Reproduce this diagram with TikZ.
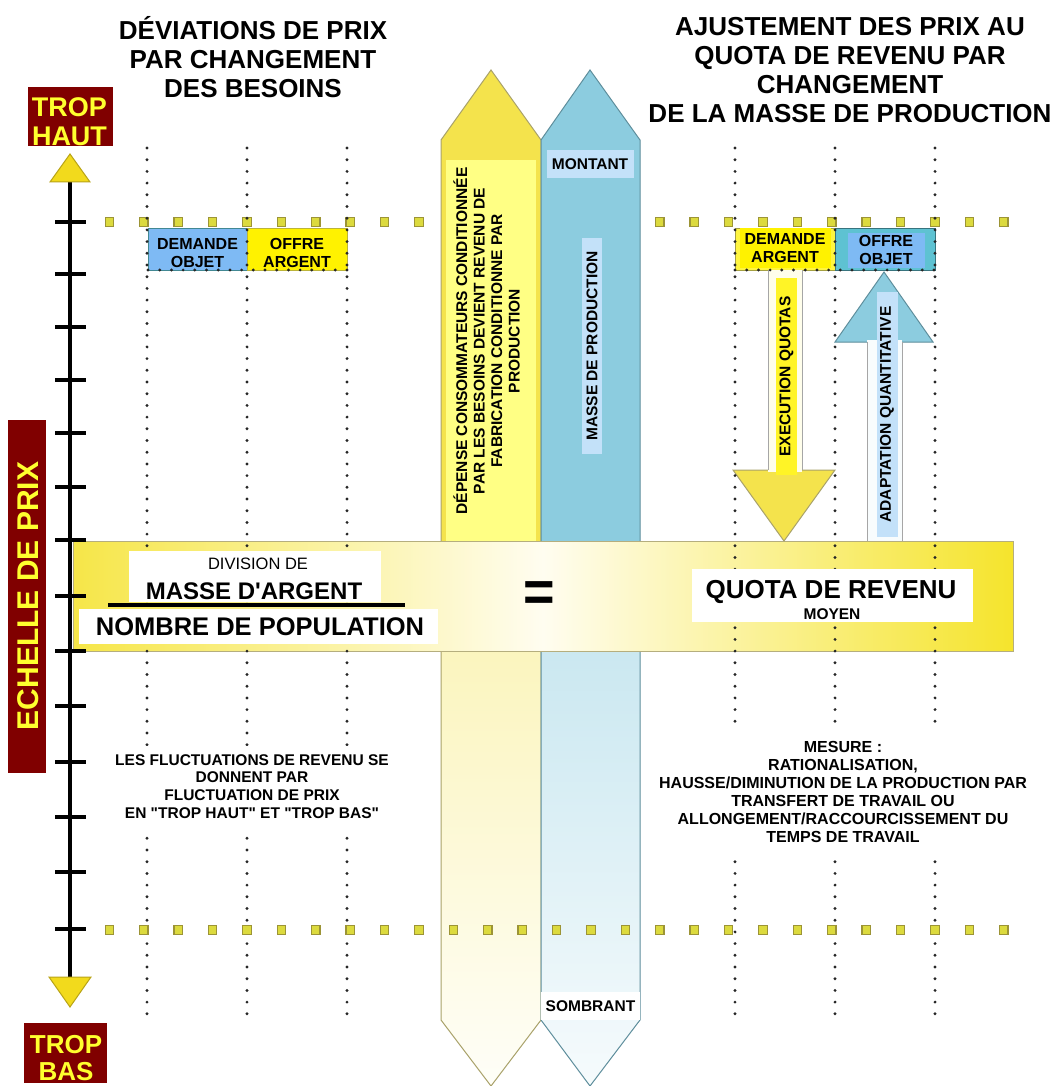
\documentclass[tikz,border=0pt]{standalone}
\usepackage{fontspec}
\newfontfamily\af{Liberation Sans}
\definecolor{dred}{HTML}{800000}
\definecolor{tyel}{HTML}{FFFF2E}
\definecolor{ayel}{HTML}{F4E34C}
\definecolor{ayelp}{HTML}{FFFF84}
\definecolor{ayelb}{HTML}{A9A26A}
\definecolor{ablu}{HTML}{8CCCDF}
\definecolor{ablub}{HTML}{5E8E9C}
\definecolor{lblu}{HTML}{C3E1F9}
\definecolor{boxblu}{HTML}{7EBAF4}
\definecolor{tealb}{HTML}{5EC2D2}
\definecolor{sqf}{HTML}{DCDA3E}
\definecolor{sqb}{HTML}{9C9436}
\definecolor{barb}{HTML}{B5AE7E}
\definecolor{bary}{HTML}{F6E648}
\definecolor{baryr}{HTML}{F5E42C}
\definecolor{barm}{HTML}{FFFDF0}
\definecolor{tri}{HTML}{F2DA1C}
\definecolor{trib}{HTML}{B9A417}
\begin{document}
\begin{tikzpicture}[x=1pt,y=-1pt,
  every node/.style={font=\af\bfseries, inner sep=0pt},
  title/.style={align=center, font=\af\bfseries\fontsize{26}{29}\selectfont},
  lbl/.style={align=center, font=\af\bfseries\fontsize{16}{18}\selectfont},
  txt/.style={align=center, font=\af\bfseries\fontsize{15.5}{17.7}\selectfont},
  rot/.style={rotate=90, align=center, font=\af\bfseries\fontsize{15.5}{17.5}\selectfont},
  redlbl/.style={align=center, text=tyel, font=\af\bfseries\fontsize{26}{28}\selectfont},
  dotline/.style={line width=3.2pt, line cap=round, dash pattern=on 0pt off 11.7pt, draw=black!85},
  sqr/.style={draw=sqb, fill=sqf, line width=1.2pt, minimum size=8.5pt, inner sep=0pt},
  tick/.style={line width=4pt, draw=black},
  outl/.style={line width=1pt},
  whitebox/.style={fill=white, inner sep=0pt},
]
\fill[white] (0,0) rectangle (1064,1086);
\useasboundingbox (0,0) rectangle (1064,1086);

% ---------- titles
\node[title] (tleft) at (253,57.5) {DÉVIATIONS DE PRIX\\PAR CHANGEMENT\\DES BESOINS};
\node[title] (tright) at (850,70.5) {AJUSTEMENT DES PRIX AU\\QUOTA DE REVENU PAR\\CHANGEMENT\\DE LA MASSE DE PRODUCTION};

% ---------- top row of squares (under the central arrows)
\foreach \k in {0,...,26} \node[sqr] (sqt\k) at ({109.4+34.4*\k},222) {};

% ---------- central yellow arrow
\fill[ayel] (441,140) -- (491,70) -- (541,140) -- (541,600) -- (441,600) -- cycle;
\shade[top color=ayel!40!white, bottom color=ayel!4!white] (441,600) -- (541,600) -- (541,1020) -- (491,1086) -- (441,1020) -- cycle;
\draw[ayelb, outl] (441,140) -- (491,70) -- (541,140) -- (541,1020) -- (491,1086) -- (441,1020) -- cycle;
\fill[ayelp] (446,160) rectangle (536,545);
\node[rot] (depense) at (486.5,341) {DÉPENSE CONSOMMATEURS CONDITIONNÉE\\PAR LES BESOINS DEVIENT REVENU DE\\FABRICATION CONDITIONNE PAR\\PRODUCTION};

% ---------- central blue arrow
\fill[ablu] (541,140) -- (590,70) -- (640,140) -- (640,600) -- (541,600) -- cycle;
\shade[top color=ablu!50!white, bottom color=ablu!8!white] (541,600) -- (640,600) -- (640,1020) -- (590,1086) -- (541,1020) -- cycle;
\draw[ablub, outl] (541,140) -- (590,70) -- (640,140) -- (640,1020) -- (590,1086) -- (541,1020) -- cycle;
\node[font=\af\bfseries\fontsize{15.5}{15.5}\selectfont, fill=lblu, minimum width=87pt, minimum height=28pt] (montant) at (590,164) {MONTANT};
\node[rot, fill=lblu, minimum width=216pt, minimum height=20pt] (masseprod) at (592,346) {MASSE DE PRODUCTION};
\node[font=\af\bfseries\fontsize{15.5}{15.5}\selectfont, fill=white, minimum width=99pt, minimum height=28pt] (sombrant) at (590.5,1006) {SOMBRANT};

% ---------- horizontal bar
\draw[draw=barb, outl, left color=bary, right color=baryr, middle color=barm] (73,541) rectangle (1013,651);

% ---------- boxes
\draw[fill=boxblu, draw=tealb!70!black, line width=0.8pt] (148,228) rectangle (247,270);
\draw[fill=yellow, draw=yellow!70!black, line width=0.8pt] (247,228) rectangle (347,270);
\node[lbl] (demobj) at (197.5,253) {DEMANDE\\OBJET};
\node[lbl] (offarg) at (297,253) {OFFRE\\ARGENT};
\draw[fill=yellow!75!white, draw=yellow!60!black, line width=0.8pt] (735,228) rectangle (835,270);
\draw[fill=tealb, draw=tealb!60!black, line width=0.8pt] (835,228) rectangle (935,270);
\node[lbl, fill=yellow, minimum width=91pt, minimum height=40pt] (demarg) at (785,248) {DEMANDE\\ARGENT};
\node[lbl, fill=boxblu, minimum width=77pt, minimum height=35pt] (offobj) at (886,250) {OFFRE\\OBJET};

% ---------- execution arrow (down)
\draw[fill=ayel, draw=ayelb, outl] (733,470) -- (835,470) -- (784,541) -- cycle;
\fill[yellow!8!white] (768,270) rectangle (802,472);
\draw[gray!70, outl] (768,270) -- (768,470) (802,270) -- (802,470);
\node[rot, fill=yellow!85!white, minimum width=197pt, minimum height=21pt] (exec) at (786.5,376.5) {EXECUTION QUOTAS};

% ---------- adaptation arrow (up)
\draw[fill=ablu, draw=ablub, outl] (835,342) -- (933,342) -- (884,272) -- cycle;
\fill[ablu!6!white] (867,340) rectangle (902,541);
\draw[gray!70, outl] (867,342) -- (867,541) (902,342) -- (902,541);
\node[rot, fill=lblu, minimum width=245pt, minimum height=21pt] (adapt) at (887,414.5) {ADAPTATION QUANTITATIVE};

% ---------- dotted vertical lines
\foreach \xx in {147,247,347,735,835,935} \draw[dotline] (\xx,148) -- (\xx,1020);
\draw[dotline] (148,270) -- (347,270);
\draw[dotline] (735,270) -- (935,270);

% ---------- bar contents
\node[whitebox, minimum width=252pt, minimum height=51pt] (divbox) at (255,576.5) {};
\node[font=\af\fontsize{16.5}{16.5}\selectfont] (division) at (258,564) {DIVISION DE};
\node[font=\af\bfseries\fontsize{24}{24}\selectfont] (masse) at (254,591) {MASSE D'ARGENT};
\draw[line width=4pt] (108,605) -- (405,605);
\node[whitebox, minimum width=359pt, minimum height=35pt] (nombox) at (258.5,626) {};
\node[font=\af\bfseries\fontsize{25.5}{25.5}\selectfont] (nombre) at (260,627) {NOMBRE DE POPULATION};
\node[font=\af\bfseries\fontsize{50}{50}\selectfont] (eq) at (539,597) {\scalebox{1.08}[1.15]{=}};
\node[whitebox, minimum width=281pt, minimum height=53pt] (quotabox) at (832.5,595.5) {};
\node[font=\af\bfseries\fontsize{26}{26}\selectfont] (quota) at (831,592) {QUOTA DE REVENU};
\node[font=\af\bfseries\fontsize{15.5}{15.5}\selectfont] (moyen) at (832,614) {MOYEN};

% ---------- lower texts
\fill[white] (104,746) rectangle (402,830);
\node[txt] (fluct) at (252,786.5) {LES FLUCTUATIONS DE REVENU SE\\DONNENT PAR\\FLUCTUATION DE PRIX\\EN "TROP HAUT" ET "TROP BAS"};
\fill[white] (642,731) rectangle (1042,856);
\node[font=\af\bfseries\fontsize{16}{18}\selectfont, align=center] (mesure) at (843,792) {MESURE :\\RATIONALISATION,\\HAUSSE/DIMINUTION DE LA PRODUCTION PAR\\TRANSFERT DE TRAVAIL OU\\ALLONGEMENT/RACCOURCISSEMENT DU\\TEMPS DE TRAVAIL};

% ---------- bottom row of squares
\foreach \k in {0,...,26} \node[sqr] (sqb\k) at ({109.4+34.4*\k},930) {};

% ---------- price scale axis
\draw[line width=4pt] (70,182) -- (70,978);
\foreach \yy in {222,274,327,380,433,487,540,596,651,706,762,817,872,929}
  \draw[tick] (55,\yy) -- (86,\yy);
\draw[fill=tri, draw=trib, line width=1pt] (50,182) -- (90,182) -- (70,154) -- cycle;
\draw[fill=tri, draw=trib, line width=1pt] (49,977) -- (91,977) -- (70,1007) -- cycle;

% ---------- red labels
\begin{scope}
\clip (28,87) rectangle (113,146);
\fill[dred] (28,87) rectangle (113,146);
\node[redlbl, font=\af\bfseries\fontsize{27}{29}\selectfont] (trophaut) at (69.5,121.5) {TROP\\HAUT};
\end{scope}
\begin{scope}
\clip (24,1023) rectangle (107,1083);
\fill[dred] (24,1023) rectangle (107,1083);
\node[redlbl, font=\af\bfseries\fontsize{26}{27.5}\selectfont] (tropbas) at (66,1058) {TROP\\BAS};
\end{scope}
\fill[dred] (8,420) rectangle (46,773);
\node[rotate=90, text=tyel, font=\af\bfseries\fontsize{30}{30}\selectfont] (echelle) at (28,596) {ECHELLE DE PRIX};
\end{tikzpicture}
\end{document}
